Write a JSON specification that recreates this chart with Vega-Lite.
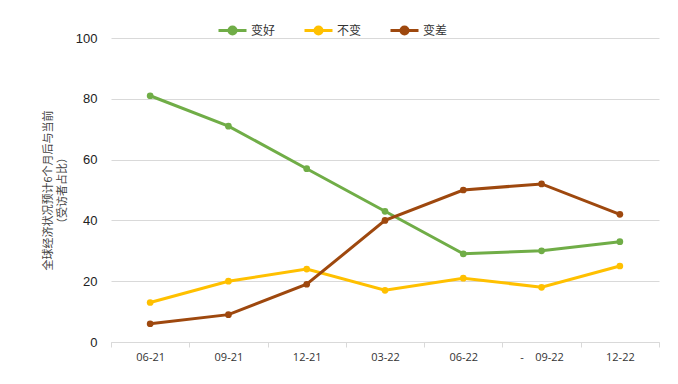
{
  "$schema": "https://vega.github.io/schema/vega-lite/v6.json",
  "autosize": {"type": "none"},
  "width": 548,
  "height": 304,
  "padding": {"left": 111, "top": 38, "right": 19, "bottom": 42},
  "background": "white",
  "config": {"view": {"stroke": null}, "font": "Liberation Sans"},
  "data": {"values": [
    {"q": "06-21", "s": "变好", "v": 81}, {"q": "09-21", "s": "变好", "v": 71}, {"q": "12-21", "s": "变好", "v": 57}, {"q": "03-22", "s": "变好", "v": 43}, {"q": "06-22", "s": "变好", "v": 29}, {"q": "09-22", "s": "变好", "v": 30}, {"q": "12-22", "s": "变好", "v": 33},
    {"q": "06-21", "s": "不变", "v": 13}, {"q": "09-21", "s": "不变", "v": 20}, {"q": "12-21", "s": "不变", "v": 24}, {"q": "03-22", "s": "不变", "v": 17}, {"q": "06-22", "s": "不变", "v": 21}, {"q": "09-22", "s": "不变", "v": 18}, {"q": "12-22", "s": "不变", "v": 25},
    {"q": "06-21", "s": "变差", "v": 6}, {"q": "09-21", "s": "变差", "v": 9}, {"q": "12-21", "s": "变差", "v": 19}, {"q": "03-22", "s": "变差", "v": 40}, {"q": "06-22", "s": "变差", "v": 50}, {"q": "09-22", "s": "变差", "v": 52}, {"q": "12-22", "s": "变差", "v": 42}
  ]},
  "encoding": {
    "x": {"field": "q", "type": "ordinal", "sort": null, "bandPosition": 0.5,
      "scale": {"type": "band", "paddingInner": 0, "paddingOuter": 0},
      "axis": {"title": null, "labelAngle": 0, "tickBand": "extent", "domainColor": "#d9d9d9", "tickColor": "#d9d9d9", "tickSize": 5, "labelFont": "Open Sans", "labelFontSize": 11, "labelColor": "#333333", "labelPadding": 4, "grid": false,
        "labelExpr": "datum.label == '09-22' ? '-\u00a0\u00a0\u00a0\u00a009-22' : datum.label"}},
    "y": {"field": "v", "type": "quantitative",
      "scale": {"domain": [0, 100]},
      "axis": {"values": [0, 20, 40, 60, 80, 100], "domain": false, "ticks": false, "gridColor": "#d9d9d9", "labelFontSize": 13, "labelColor": "#222222", "labelPadding": 14,
        "title": ["全球经济状况预计6个月后与当前", "（受访者占比）"], "titleFont": "Noto Sans CJK SC", "titleFontSize": 11, "titleFontWeight": "normal", "titleColor": "#444444", "titlePadding": 8, "titleLineHeight": 14}},
    "color": {"field": "s", "type": "nominal",
      "scale": {"domain": ["变好", "不变", "变差"], "range": ["#70AD47", "#FFC000", "#9E480E"]},
      "legend": {"title": null, "orient": "none", "direction": "horizontal", "legendX": 106, "legendY": -23,
        "symbolType": "M-1,0H1M0.25,0A0.25,0.25,0,1,1,-0.25,0A0.25,0.25,0,1,1,0.25,0Z",
        "symbolSize": 784, "symbolStrokeWidth": 3, "labelFont": "Noto Sans CJK SC", "labelFontSize": 12, "labelColor": "#333333", "labelOffset": 3, "columnPadding": 22,
        "labelExpr": "datum.label == '变差' ? '\u00a0\u00a0变差' : datum.label",
        "encode": {"symbols": {"update": {"fill": {"scale": "color", "field": "value"}, "fillOpacity": {"value": 1}}}}}}
  },
  "layer": [
    {"mark": {"type": "line", "strokeWidth": 3}},
    {"mark": {"type": "point", "filled": true, "size": 45, "opacity": 1}}
  ]
}
